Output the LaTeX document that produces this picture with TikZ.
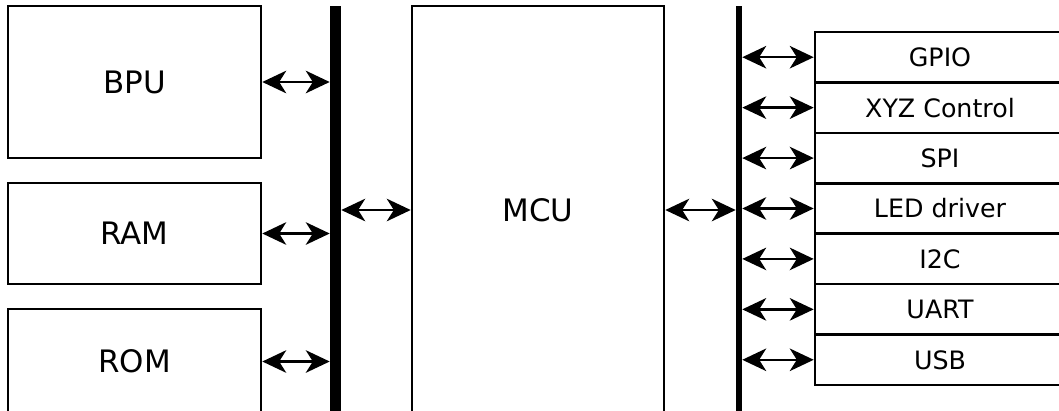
\documentclass[tikz,border=0pt]{standalone}
\usepackage{fontspec}
\setmainfont{DejaVu Sans}
\usetikzlibrary{arrows.meta,positioning}

\begin{document}
\begin{tikzpicture}[x=0.025cm, y=-0.025cm,
    >={Stealth[length=17pt,width=16pt,inset=5pt]},
    block/.style={draw, line width=1.8pt, inner sep=0pt, minimum width=6.325cm,
      font=\fontsize{22}{26}\selectfont},
    port/.style={draw, line width=1.8pt, inner sep=0pt, minimum width=6.25cm,
      minimum height=1.26cm, font=\fontsize{18}{22}\selectfont},
    bus/.style={fill=black, inner sep=0pt, minimum height=10.2cm},
    link/.style={<->, line width=1.8pt}]

    % Fix the page to the size of the picture
    \useasboundingbox (0,0) rectangle (1059,410);

    % First the memory blocks on the left
    \node [block, minimum height=3.8cm] (BPU) at (134.5, 82) {BPU};
    \node [block, minimum height=2.525cm] (RAM) at (134.5, 233.5) {RAM};
    \node [block, minimum height=2.625cm] (ROM) at (134.5, 361.5) {ROM};

    % Next, the two buses and the controller between them
    \node [bus, minimum width=0.275cm] (bus1) at (335.5, 210) {};
    \node [block, minimum width=6.3cm, minimum height=10.2cm] (MCU) at (538, 210) {MCU};
    \node [bus, minimum width=0.15cm] (bus2) at (739, 210) {};

    % Memory blocks to the first bus
    \foreach \mem in {BPU, RAM, ROM}
      \draw [link] (\mem.east) -- (\mem.east -| bus1.west);

    % Buses to the controller
    \draw [link] (MCU.west -| bus1.east) -- (MCU.west);
    \draw [link] (MCU.east) -- (MCU.east -| bus2.west);

    % Peripherals on the right, one under the other
    \foreach \name/\txt [count=\i] in {GPIO/GPIO, XYZ/XYZ Control, SPI/SPI,
        LED/LED driver, I2C/I2C, UART/UART, USB/USB} {
      \node [port] (\name) at (940, {6.77+50.43*\i}) {\txt};
      \draw [link] (\name.west -| bus2.east) -- (\name.west);
    }
\end{tikzpicture}
\end{document}
